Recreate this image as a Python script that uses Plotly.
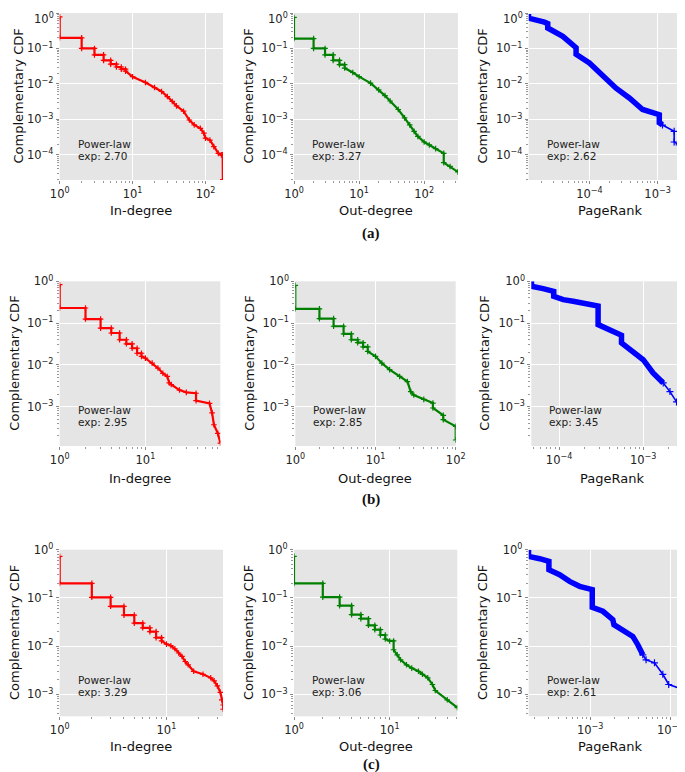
import math
import plotly.graph_objects as go

# ---------------- data ----------------
# Row (a)
a_in_x = [1, 1, 2, 2, 3, 3, 4, 4, 5, 5, 6, 6, 7, 7, 8, 8, 10, 15, 20, 25, 30, 35, 40, 50, 60, 70, 85, 95, 100, 115, 130, 150, 165, 172, 173]
a_in_y = [0.78, 0.2, 0.2, 0.1, 0.1, 0.066, 0.066, 0.046, 0.046, 0.036, 0.036, 0.03, 0.03, 0.026, 0.026, 0.023,
          0.016, 0.011, 0.0079, 0.0061, 0.0044, 0.0032, 0.0024, 0.0017, 9.6e-4, 7e-4, 5.6e-4, 4.1e-4, 2.95e-4,
          2.6e-4, 1.7e-4, 1.1e-4, 1e-4, 1e-4, 2e-5]
a_out_x = [1, 1, 2, 2, 3, 3, 4, 4, 5, 5, 6, 6, 8, 10, 15, 20, 25, 30, 40, 50, 60, 70, 80, 100, 120, 150, 200, 200, 250, 330]
a_out_y = [0.75, 0.19, 0.19, 0.1, 0.1, 0.066, 0.066, 0.046, 0.046, 0.035, 0.035, 0.028, 0.021, 0.016, 0.0105,
           0.0068, 0.0047, 0.0033, 0.0019, 0.0011, 7e-4, 4.6e-4, 3.3e-4, 2.3e-4, 1.9e-4, 1.5e-4, 1.1e-4, 6e-5,
           4.7e-5, 3.3e-5]
a_pr_x = [1.28e-5, 1.28e-5, 2.19e-5, 2.45e-5, 2.45e-5, 4.07e-5, 6.38e-5, 6.38e-5, 1e-4, 1.57e-4, 2.46e-4,
          3.85e-4, 6.03e-4, 1.06e-3, 1.06e-3, 1.18e-3]
a_pr_y = [0.94, 0.72, 0.55, 0.5, 0.377, 0.219, 0.105, 0.069, 0.039, 0.018, 0.0076, 0.004, 0.0019, 0.00135,
          8e-4, 6.9e-4]
a_pr_tail_x = [1.18e-3, 1.75e-3, 1.75e-3, 2.07e-3, 2.9e-3, 3.0e-3, 3.0e-3]
a_pr_tail_y = [6.9e-4, 4.6e-4, 2.3e-4, 1.9e-4, 1.5e-4, 1.5e-4, 3.3e-5]

# Row (b)
b_in_x = [1, 1, 2, 2, 3, 3, 4, 4, 5, 5, 6, 6, 7, 7, 8, 8, 9, 9, 10, 12, 14, 16, 18, 19, 20, 25, 30, 39, 39,
          56, 60, 63, 70, 75]
b_in_y = [0.83, 0.23, 0.23, 0.125, 0.125, 0.076, 0.076, 0.058, 0.058, 0.04, 0.04, 0.032, 0.032, 0.025, 0.025,
          0.019, 0.019, 0.016, 0.0145, 0.011, 0.0084, 0.0063, 0.0053, 0.0037, 0.0034, 0.0025, 0.0022, 0.0021,
          0.0014, 0.0012, 7.1e-4, 3.7e-4, 2.3e-4, 1.35e-4]
b_out_x = [1, 1, 2, 2, 3, 3, 4, 4, 5, 5, 6, 6, 7, 7, 8, 8, 10, 12, 15, 20, 25, 27.5, 30, 40, 52, 52, 70, 70,
           100, 100]
b_out_y = [0.8, 0.22, 0.22, 0.128, 0.128, 0.084, 0.084, 0.055, 0.055, 0.04, 0.04, 0.034, 0.034, 0.027, 0.027,
           0.021, 0.016, 0.011, 0.0077, 0.0053, 0.004, 0.0023, 0.0019, 0.0015, 0.00122, 9.3e-4, 6.2e-4, 4.9e-4,
           3.4e-4, 1.6e-4]
b_pr_x = [4.7e-5, 4.7e-5, 6.45e-5, 8.64e-5, 8.64e-5, 1.12e-4, 1.47e-4, 1.93e-4, 2.78e-4, 2.91e-4, 2.91e-4,
          4.0e-4, 5.52e-4, 5.52e-4, 7.6e-4, 1e-3, 1.31e-3, 1.73e-3]
b_pr_y = [1.0, 0.76, 0.67, 0.576, 0.437, 0.364, 0.332, 0.292, 0.262, 0.255, 0.092, 0.07, 0.051, 0.0335, 0.0211,
          0.0133, 0.0064, 0.0037]
b_pr_tail_x = [1.73e-3, 2.08e-3, 2.49e-3, 2.99e-3, 3.59e-3, 3.8e-3, 3.8e-3]
b_pr_tail_y = [0.0037, 0.0023, 0.0013, 6.4e-4, 3.7e-4, 3.3e-4, 1.6e-4]

# Row (c)
c_in_x = [1, 1, 2, 2, 3, 3, 4, 4, 5, 5, 6, 6, 7, 7, 8, 8, 9, 9, 10, 11, 12, 13, 14, 15, 16, 18, 22, 26, 28, 30,
          32, 33, 34, 34]
c_in_y = [0.73, 0.2, 0.2, 0.103, 0.103, 0.067, 0.067, 0.044, 0.044, 0.03, 0.03, 0.024, 0.024, 0.02, 0.02, 0.015,
          0.015, 0.0128, 0.011, 0.0102, 0.0088, 0.0072, 0.0061, 0.0048, 0.0041, 0.003, 0.0026, 0.0022, 0.0019,
          0.0015, 0.0011, 7.7e-4, 6e-4, 4.9e-4]
c_out_x = [1, 1, 2, 2, 3, 3, 4, 4, 5, 5, 6, 6, 7, 7, 8, 8, 9, 9, 10, 11, 11, 12, 13, 15, 17, 20, 22, 25, 28, 30,
           40, 51]
c_out_y = [0.73, 0.2, 0.2, 0.104, 0.104, 0.069, 0.069, 0.045, 0.045, 0.037, 0.037, 0.027, 0.027, 0.022, 0.022,
           0.017, 0.017, 0.014, 0.0128, 0.0128, 0.0084, 0.0066, 0.0052, 0.0041, 0.0035, 0.003, 0.0026, 0.0022,
           0.0016, 0.0012, 7.7e-4, 5.3e-4]
c_pr_x = [1.69e-4, 1.69e-4, 2.33e-4, 3.04e-4, 3.04e-4, 4.14e-4, 5.52e-4, 7.36e-4, 1.06e-3, 1.06e-3, 1.44e-3,
          1.92e-3, 1.98e-3, 2.56e-3, 3.41e-3, 3.94e-3, 4.55e-3]
c_pr_y = [1.0, 0.727, 0.651, 0.573, 0.385, 0.303, 0.22, 0.174, 0.148, 0.064, 0.0528, 0.0354, 0.0278, 0.0218,
          0.0159, 0.0107, 0.0066]
c_pr_tail_x = [4.55e-3, 5.0e-3, 6.37e-3, 8.1e-3, 9.6e-3, 1.56e-2, 1.85e-2]
c_pr_tail_y = [0.0066, 0.0052, 0.0045, 0.0026, 0.0016, 0.0012, 5.1e-4]

exponents = [["2.70", "3.27", "2.62"], ["2.95", "2.85", "3.45"], ["3.29", "3.06", "2.61"]]
x_titles = ["In-degree", "Out-degree", "PageRank"]
y_title = "Complementary CDF"
row_labels = ["(a)", "(b)", "(c)"]

# ---------------- layout geometry (pixels) ----------------
W, H = 685, 772
boxes = [
    [(51.7, 215, 5, 172), (286, 450, 5, 172), (520.7, 683, 5, 172)],
    [(51.7, 212.3, 273.3, 438), (287.3, 447.7, 273.3, 438), (523.3, 684, 273.3, 438)],
    [(51.7, 215, 541.7, 708.3), (286, 449.3, 541.7, 708.3), (520.7, 683.7, 541.7, 708.3)],
]
x_ranges = [
    [[0, 2.24], [0, 2.52], [-4.89, -2.51]],
    [[0, 1.874], [0, 2.0], [-4.33, -2.42]],
    [[0, 1.53], [0, 1.707], [-3.77, -1.73]],
]
y_ranges = [[-4.71, 0], [-3.94, 0], [-3.456, 0]]
ytitle_x = [[10, 240, 474], [7, 242, 477], [6, 240, 474]]
xtitle_y = [202, 470, 738]
label_y = [226, 491, 756]

colors = ["#FF0000", "#008000", "#0000FF"]
series = [
    [(a_in_x, a_in_y), (a_out_x, a_out_y), (a_pr_x, a_pr_y, a_pr_tail_x, a_pr_tail_y)],
    [(b_in_x, b_in_y), (b_out_x, b_out_y), (b_pr_x, b_pr_y, b_pr_tail_x, b_pr_tail_y)],
    [(c_in_x, c_in_y), (c_out_x, c_out_y), (c_pr_x, c_pr_y, c_pr_tail_x, c_pr_tail_y)],
]

FONT = "DejaVu Sans"
TICKFONT = dict(family=FONT, size=11.5, color="#222")


def sup(k):
    s = str(k).replace("-", "\u2212")
    return "10<sup>" + s + "</sup>"


def log_ticks(lo, hi):
    major, minor = [], []
    for k in range(math.floor(lo) - 1, math.ceil(hi) + 1):
        if lo - 1e-6 <= k <= hi + 1e-6:
            major.append(k)
        for m in range(2, 10):
            v = k + math.log10(m)
            if lo < v < hi:
                minor.append(m * 10 ** k)
    return major, minor


fig = go.Figure()
annotations = []
layout = {}

for r in range(3):
    for c in range(3):
        i = r * 3 + c + 1
        xs = "" if i == 1 else str(i)
        x0, x1, y0, y1 = boxes[r][c]
        color = colors[c]
        s = series[r][c]
        if c < 2:
            fig.add_trace(go.Scatter(
                x=s[0], y=s[1], mode="lines+markers", xaxis="x" + xs, yaxis="y" + xs,
                line=dict(color=color, width=2.2),
                marker=dict(symbol="cross-thin", size=4, line=dict(color=color, width=1.2)),
                showlegend=False, hoverinfo="skip"))
        else:
            fig.add_trace(go.Scatter(
                x=s[0], y=s[1], mode="lines", xaxis="x" + xs, yaxis="y" + xs,
                line=dict(color=color, width=5.5),
                showlegend=False, hoverinfo="skip"))
            fig.add_trace(go.Scatter(
                x=s[2], y=s[3], mode="lines+markers", xaxis="x" + xs, yaxis="y" + xs,
                line=dict(color=color, width=1.6),
                marker=dict(symbol="cross-thin", size=5, line=dict(color=color, width=1.2)),
                showlegend=False, hoverinfo="skip"))

        xmaj, xmin = log_ticks(*x_ranges[r][c])
        ymaj, ymin = log_ticks(*y_ranges[r])
        # the top label of the first row sits at the page edge: draw it as an annotation
        ytext = [("" if (r == 0 and k == 0) else sup(k)) for k in ymaj]
        if r == 0:
            annotations.append(dict(
                text=sup(0), xref="paper", yref="paper", x=(x0 - 4) / W, y=1 - 0.5 / H,
                xanchor="right", yanchor="top", showarrow=False, font=TICKFONT))
        common = dict(
            type="log", showgrid=True, gridcolor="white", gridwidth=1.2, zeroline=False,
            showline=False, ticks="outside", ticklen=3, tickcolor="#888", tickwidth=1,
            automargin=False, ticklabeloverflow="allow", tickfont=TICKFONT,
        )
        layout["xaxis" + xs] = dict(
            common, domain=[x0 / W, x1 / W], anchor="y" + xs, range=x_ranges[r][c],
            tickmode="array", tickvals=[10 ** k for k in xmaj], ticktext=[sup(k) for k in xmaj],
            minor=dict(tickmode="array", tickvals=xmin, ticks="outside", ticklen=2,
                       tickcolor="#999", showgrid=False),
        )
        layout["yaxis" + xs] = dict(
            common, domain=[1 - y1 / H, 1 - y0 / H], anchor="x" + xs, range=y_ranges[r],
            tickmode="array", tickvals=[10 ** k for k in ymaj], ticktext=ytext,
            minor=dict(tickmode="array", tickvals=ymin, ticks="outside", ticklen=2,
                       tickcolor="#999", showgrid=False),
        )

        # power-law annotation (two lines)
        for txt, yy in (("Power-law", 0.218), ("exp: " + exponents[r][c], 0.143)):
            annotations.append(dict(
                text=txt, xref="x" + xs + " domain", yref="y" + xs + " domain",
                x=0.1, y=yy, xanchor="left", yanchor="middle", showarrow=False,
                font=dict(family=FONT, size=10.5, color="#222")))
        # y title
        annotations.append(dict(
            text=y_title, xref="paper", yref="paper", x=ytitle_x[r][c] / W,
            y=1 - (y0 + y1) / 2 / H, textangle=-90, xanchor="center", yanchor="middle",
            showarrow=False, font=dict(family=FONT, size=13, color="#111")))
        # x title
        annotations.append(dict(
            text=x_titles[c], xref="paper", yref="paper", x=(x0 + x1) / 2 / W,
            y=1 - xtitle_y[r] / H, xanchor="center", yanchor="middle",
            showarrow=False, font=dict(family=FONT, size=13, color="#111")))

    annotations.append(dict(
        text="<b>" + row_labels[r] + "</b>", xref="paper", yref="paper", x=363 / W,
        y=1 - label_y[r] / H, xanchor="center", yanchor="middle", showarrow=False,
        font=dict(family="Liberation Serif", size=15, color="#111")))

fig.update_layout(
    width=W, height=H, margin=dict(l=0, r=0, t=0, b=0, autoexpand=False),
    paper_bgcolor="white", plot_bgcolor="#E5E5E5",
    annotations=annotations, **layout)

fig.write_html("out.html")
